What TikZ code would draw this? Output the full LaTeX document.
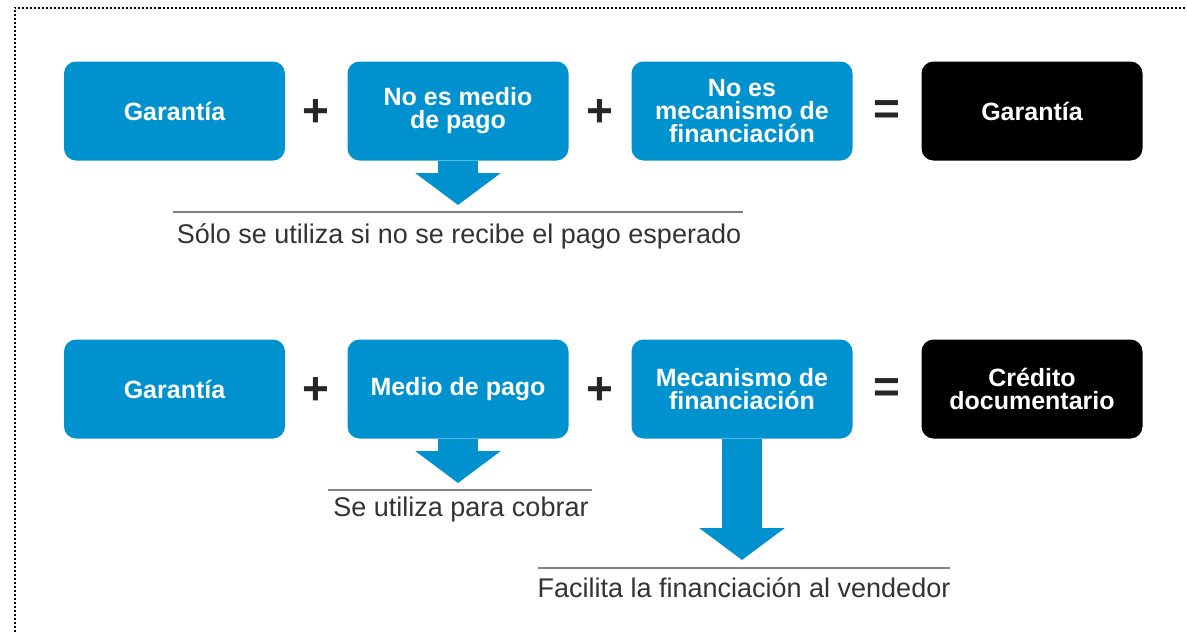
\documentclass[tikz,border=0pt]{standalone}
\usepackage{fontspec}
\setmainfont{Liberation Sans}
\usetikzlibrary{arrows.meta}
\definecolor{boxblue}{RGB}{0,146,207}
\definecolor{notegray}{RGB}{51,51,51}
\begin{document}
\begin{tikzpicture}[x=1pt,y=-1pt,
  blue box/.style={rectangle,rounded corners=12pt,fill=boxblue,text=white,align=center,
    minimum width=221pt,minimum height=99pt,inner sep=0pt,
    font=\fontsize{25}{23}\selectfont\bfseries},
  black box/.style={blue box,fill=black},
  op sign/.style={inner sep=0pt,font=\fontsize{46}{46}\selectfont\bfseries,text=black!85},
  note text/.style={inner sep=0pt,anchor=base,text=notegray,font=\fontsize{27}{30}\selectfont},
  note line/.style={draw=black!50,line width=2pt},
  flecha/.style={draw=boxblue,line width=40pt,-{Triangle[length=32pt,width=84pt]}} ]

  \useasboundingbox (0,0) rectangle (1187,632);
  \draw[line width=2pt,dash pattern=on 2pt off 2pt] (14.5,632) -- (14.5,8) -- (1187,8);

  % first row
  \node[blue box] (gar1) at (174.5,111) {Garantía};
  \node[op sign] (mas1) at (316,113) {+};
  \node[blue box] (medio1) at (458,111) {No es medio\\de pago};
  \node[op sign] (mas2) at (600,113) {+};
  \node[blue box] (finan1) at (742,111) {No es\\mecanismo de\\financiación};
  \node[op sign] (igual1) at (887,113) {=};
  \node[black box] (res1) at (1032,111) {Garantía};

  \coordinate (tip1) at (458,205);
  \draw[flecha] (medio1.south) -- (tip1);
  \coordinate (la1) at (173,212);
  \coordinate (lb1) at (743,212);
  \draw[note line] (la1) -- (lb1);
  \node[note text] (nota1) at (459,243) {Sólo se utiliza si no se recibe el pago esperado};

  % second row
  \node[blue box] (gar2) at (174.5,389) {Garantía};
  \node[op sign] (mas3) at (316,391) {+};
  \node[blue box] (medio2) at (458,389) {Medio de pago};
  \node[op sign] (mas4) at (600,391) {+};
  \node[blue box] (finan2) at (742,389) {Mecanismo de\\financiación};
  \node[op sign] (igual2) at (887,391) {=};
  \node[black box] (res2) at (1032,389) {Crédito\\documentario};

  \coordinate (tip2) at (458,483);
  \draw[flecha] (medio2.south) -- (tip2);
  \coordinate (la2) at (328,490);
  \coordinate (lb2) at (592,490);
  \draw[note line] (la2) -- (lb2);
  \node[note text] (nota2) at (461,516) {Se utiliza para cobrar};

  \coordinate (tip3) at (742,560);
  \draw[flecha] (finan2.south) -- (tip3);
  \coordinate (la3) at (538,568);
  \coordinate (lb3) at (950,568);
  \draw[note line] (la3) -- (lb3);
  \node[note text] (nota3) at (744,597) {Facilita la financiación al vendedor};
\end{tikzpicture}
\end{document}
